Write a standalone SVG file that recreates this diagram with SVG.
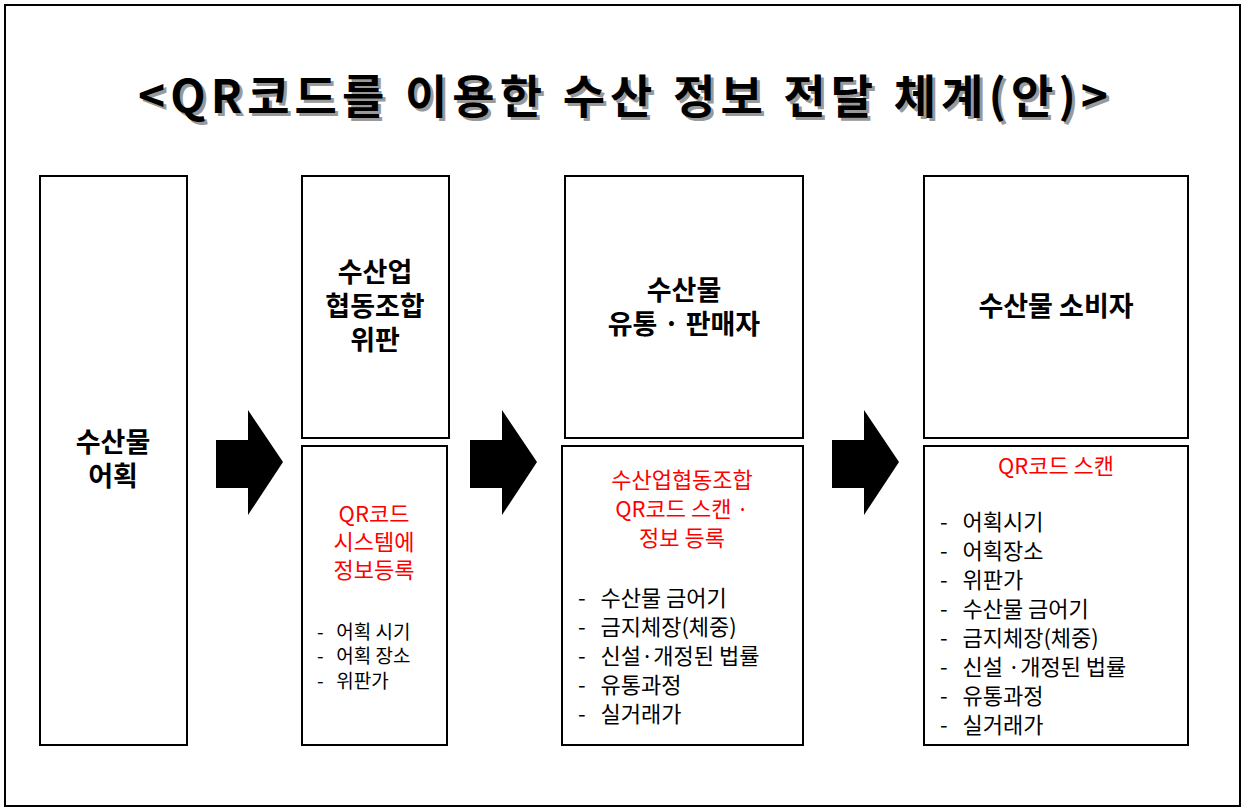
<svg xmlns="http://www.w3.org/2000/svg" width="1246" height="812" viewBox="0 0 1246 812">
<defs>
<style>
text{font-family:"Noto Sans CJK KR","Liberation Sans",sans-serif;white-space:pre}
.b{fill:#fff;stroke:#000;stroke-width:2}
.h{font-size:27px;font-weight:bold;text-anchor:middle}
.r{font-size:22px;fill:#f00;text-anchor:middle}
.l{font-size:22px}
.s{font-size:19px}
</style>
<path id="arr" d="M0,30 H32 V0 L67,52 L32,105 V78 H0 Z" fill="#000"/>
</defs>
<rect x="5" y="5" width="1235" height="801" fill="#fff" stroke="#000" stroke-width="2"/>
<text x="141" y="116" font-size="46" font-weight="bold" fill="#999" textLength="970" lengthAdjust="spacing">&lt;QR코드를 이용한 수산 정보 전달 체계(안)&gt;</text>
<text x="138" y="113" font-size="46" font-weight="bold" textLength="970" lengthAdjust="spacing">&lt;QR코드를 이용한 수산 정보 전달 체계(안)&gt;</text>
<g id="n1"><rect class="b" x="40" y="176" width="147" height="569"/>
<text class="h" x="113" y="452">수산물</text><text class="h" x="113" y="486">어획</text></g>
<g id="n2"><rect class="b" x="302" y="176" width="147" height="262"/>
<text class="h" x="375" y="282">수산업</text><text class="h" x="375" y="316">협동조합</text><text class="h" x="375" y="350">위판</text></g>
<g id="n2b"><rect class="b" x="302" y="446" width="145" height="299"/>
<text class="r" x="374" y="522">QR코드</text><text class="r" x="374" y="550">시스템에</text><text class="r" x="374" y="578">정보등록</text>
<text class="s" x="317" y="639" xml:space="preserve">-   어획 시기</text><text class="s" x="317" y="663" xml:space="preserve">-   어획 장소</text><text class="s" x="317" y="688" xml:space="preserve">-   위판가</text></g>
<g id="n3"><rect class="b" x="565" y="176" width="238" height="262"/>
<text class="h" x="684" y="300">수산물</text><text class="h" x="684" y="334">유통 · 판매자</text></g>
<g id="n3b"><rect class="b" x="562" y="446" width="241" height="299"/>
<text class="r" x="682" y="488">수산업협동조합</text><text class="r" x="682" y="517">QR코드 스캔 ·</text><text class="r" x="682" y="546">정보 등록</text>
<text class="l" x="578" y="606" xml:space="preserve">-   수산물 금어기</text><text class="l" x="578" y="635" xml:space="preserve">-   금지체장(체중)</text><text class="l" x="578" y="664" xml:space="preserve">-   신설·개정된 법률</text><text class="l" x="578" y="693" xml:space="preserve">-   유통과정</text><text class="l" x="578" y="722" xml:space="preserve">-   실거래가</text></g>
<g id="n4"><rect class="b" x="924" y="176" width="264" height="262"/>
<text class="h" x="1056" y="316">수산물 소비자</text></g>
<g id="n4b"><rect class="b" x="924" y="446" width="264" height="299"/>
<text class="r" x="1056" y="474">QR코드 스캔</text>
<text class="l" x="940" y="530" xml:space="preserve">-   어획시기</text><text class="l" x="940" y="559" xml:space="preserve">-   어획장소</text><text class="l" x="940" y="588" xml:space="preserve">-   위판가</text><text class="l" x="940" y="617" xml:space="preserve">-   수산물 금어기</text><text class="l" x="940" y="646" xml:space="preserve">-   금지체장(체중)</text><text class="l" x="940" y="675" xml:space="preserve">-   신설 ·개정된 법률</text><text class="l" x="940" y="704" xml:space="preserve">-   유통과정</text><text class="l" x="940" y="733" xml:space="preserve">-   실거래가</text></g>
<g id="connectors">
<use href="#arr" x="216" y="410"/><use href="#arr" x="470" y="410"/><use href="#arr" x="832" y="410"/>
</g>
</svg>
